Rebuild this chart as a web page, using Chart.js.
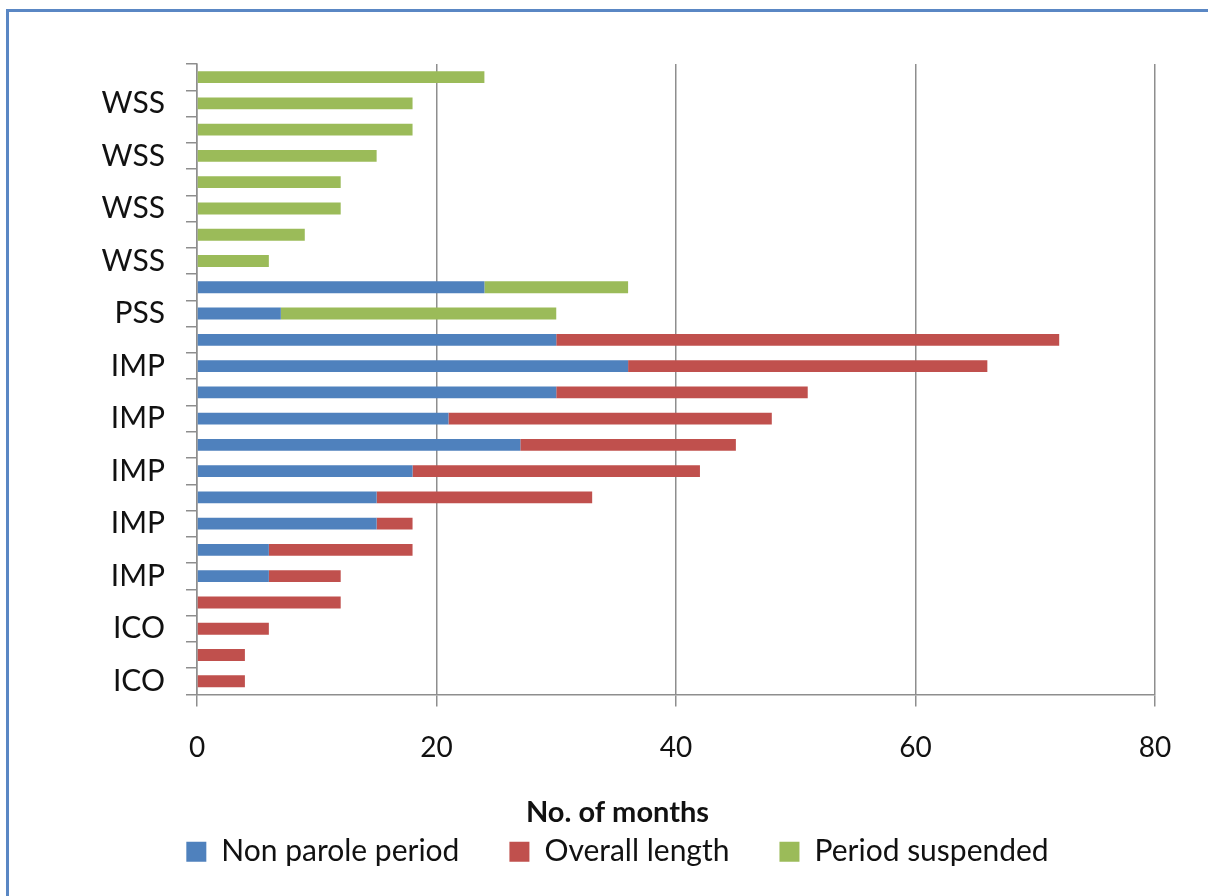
<!DOCTYPE html>
<html>
<head>
<meta charset="utf-8">
<title>Sentence lengths</title>
<script src="https://cdn.jsdelivr.net/npm/chart.js@4"></script>
<style>
    html, body { margin: 0; padding: 0; background: #fff; overflow: hidden; }
    #frame {
        position: absolute; left: 6px; top: 9px; width: 1400px; height: 1000px;
        border-top: 3px solid #5a87c4; border-left: 3px solid #5a87c4;
    }
    #wrap { position: absolute; left: 0; top: 0; width: 1208px; height: 896px; }
</style>
</head>
<body>
<div id="frame"></div>
<div id="wrap"><canvas id="myBarChart"></canvas></div>
<script>
// categories listed top to bottom, as in the picture
const categories = [
    'WSS', 'WSS', 'WSS', 'WSS', 'WSS', 'WSS', 'WSS', 'WSS',
    'PSS', 'PSS',
    'IMP', 'IMP', 'IMP', 'IMP', 'IMP', 'IMP', 'IMP', 'IMP', 'IMP', 'IMP',
    'ICO', 'ICO', 'ICO', 'ICO'
];
const nonParole = [
    null, null, null, null, null, null, null, null,
    24, 7,
    30, 36, 30, 21, 27, 18, 15, 15, 6, 6,
    null, null, null, null
];
const overallLength = [
    null, null, null, null, null, null, null, null,
    null, null,
    42, 30, 21, 27, 18, 24, 18, 3, 12, 6,
    12, 6, 4, 4
];
const periodSuspended = [
    24, 18, 18, 15, 12, 12, 9, 6,
    12, 23,
    null, null, null, null, null, null, null, null, null, null,
    null, null, null, null
];
const xTicks = [0, 20, 40, 60, 80];

window.onload = function () {
    const gridGrey = '#8e8e8e';
    const ctx = document.getElementById('myBarChart');

    new Chart(ctx, {
        type: 'bar',
        data: {
            labels: categories,
            datasets: [
                { label: 'Non parole period', data: nonParole, backgroundColor: '#4f81bd' },
                { label: 'Overall length', data: overallLength, backgroundColor: '#c0504d' },
                { label: 'Period suspended', data: periodSuspended, backgroundColor: '#9bbb59' },
            ],
        },
        options: {
            indexAxis: 'y', // horizontal bars
            responsive: true,
            maintainAspectRatio: false,
            animation: false,
            datasets: {
                bar: { categoryPercentage: 1, barPercentage: 0.45 },
            },
            layout: {
                padding: { left: 80, right: 53, top: 64, bottom: 16 },
            },
            scales: {
                x: {
                    stacked: true,
                    min: xTicks[0],
                    max: xTicks[xTicks.length - 1],
                    afterBuildTicks: (scale) => {
                        scale.ticks = xTicks.map((v) => ({ value: v }));
                    },
                    grid: { color: gridGrey, lineWidth: 1.5, tickLength: 12 },
                    border: { color: gridGrey, width: 1.5 },
                    ticks: {
                        color: '#111',
                        padding: 25,
                        font: { family: 'Lato', size: 28 },
                    },
                },
                y: {
                    stacked: true,
                    afterFit: (scale) => { scale.width = 117; },
                    grid: { drawOnChartArea: false, offset: true, color: gridGrey, lineWidth: 1.5, tickLength: 11 },
                    border: { color: gridGrey, width: 1.5 },
                    ticks: {
                        autoSkip: false,
                        color: '#111',
                        padding: 21,
                        font: { family: 'Lato', size: 30 },
                        // only every second label is written, counting from the bottom
                        callback: (value, index) => (index % 2 === 1 ? categories[index] : ''),
                    },
                },
            },
            plugins: {
                title: {
                    display: true,
                    position: 'bottom',
                    weight: 500, // sit between the axis and the legend
                    text: 'No. of months',
                    color: '#111',
                    font: { family: 'Lato', size: 29, weight: 'bold' },
                    padding: { top: 5, bottom: -43 },
                },
                legend: {
                    position: 'bottom',
                    labels: {
                        color: '#111',
                        boxWidth: 20,
                        boxHeight: 20,
                        padding: 50,
                        font: { family: 'Lato', size: 30 },
                    },
                },
                tooltip: { enabled: false },
            },
        },
    });
};
</script>
</body>
</html>
